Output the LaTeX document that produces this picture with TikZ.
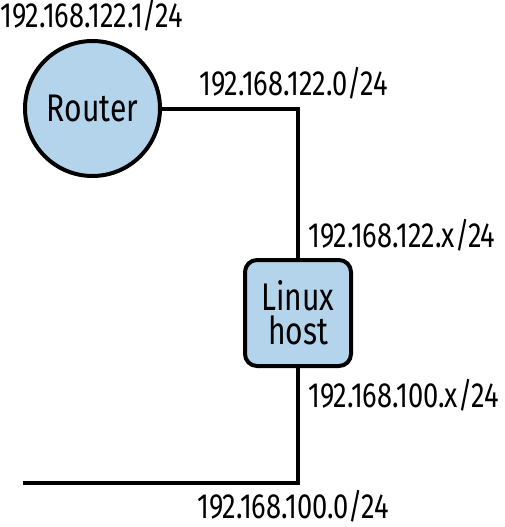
\documentclass[tikz,border=0pt]{standalone}
\usepackage{fontspec}
\setmainfont[FakeStretch=0.78]{Fira Sans}
\usepackage{tikz}
\definecolor{nodeblue}{RGB}{179,212,235}

\begin{document}
\begin{tikzpicture}[x=1pt,y=-1pt,
  netline/.style={line width=4pt},
  iplabel/.style={font=\fontsize{35}{35}\selectfont, inner sep=0pt},
  netnode/.style={draw, line width=4pt, fill=nodeblue, inner sep=0pt,
    font=\fontsize{38.5}{34}\selectfont, align=center}]
\useasboundingbox (0,0) rectangle (505,527);
\newcommand{\Busx}{298}; % x of the vertical bus
\newcommand{\Lanx}{23}; % left end of the lower network
\newcommand{\Lany}{483}; % y of the lower network

% nodes
\node[netnode, circle, minimum size=135pt] (router) at (92.5,108.5) {Router};
\node[netnode, rounded corners=12pt, minimum size=106pt] (host) at (\Busx,313) {Linux\\host};

\coordinate (UC) at (\Busx,108.5); % upper corner
\coordinate (LC) at (\Busx,\Lany); % lower corner
\coordinate (LE) at (\Lanx,\Lany); % free end of the lower network

% wires
\draw[netline] (router.east) -- (UC) -- (host.north);
\draw[netline] (host.south) -- (LC) -- (LE);

% addresses
\node[iplabel, anchor=base west] (ipr)  at (0,28)    {192.168.122.1/24};
\node[iplabel, anchor=base west] (netu) at (199,95)  {192.168.122.0/24};
\node[iplabel, anchor=base west] (ipu)  at (308,247) {192.168.122.x/24};
\node[iplabel, anchor=base west] (ipl)  at (308,407) {192.168.100.x/24};
\node[iplabel, anchor=base west] (netl) at (197,518) {192.168.100.0/24};
\end{tikzpicture}
\end{document}
